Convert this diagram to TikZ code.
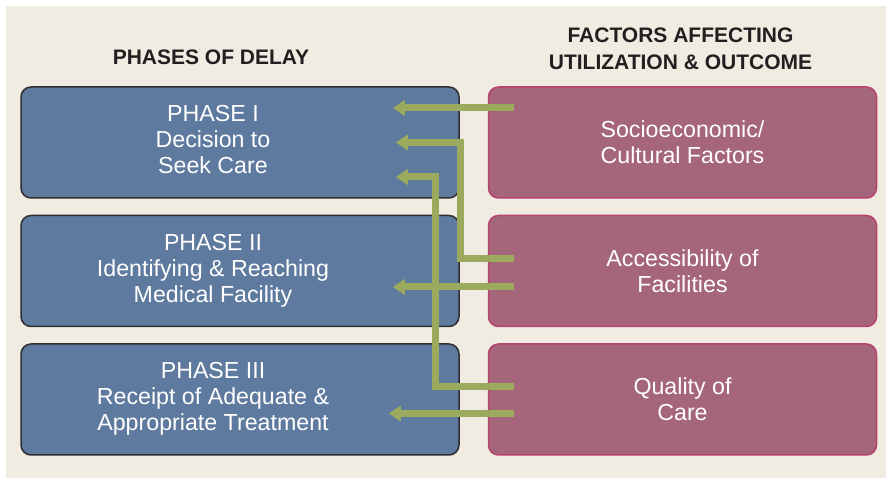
\documentclass[tikz,border=0pt]{standalone}
\usepackage{fontspec}
\setmainfont{Liberation Sans}
\usepackage{xcolor}
\usetikzlibrary{arrows.meta,positioning}

\definecolor{bgcream}{HTML}{F0ECE2}
\definecolor{phaseblue}{HTML}{5E7A9E}
\definecolor{blueborder}{HTML}{2E2E30}
\definecolor{factorpink}{HTML}{A5657B}
\definecolor{pinkborder}{HTML}{B8426E}
\definecolor{arrowgreen}{HTML}{9BAA5C}
\definecolor{headgray}{HTML}{231F20}

% phase text sits a little left of the box centre
\newcommand{\phasetxt}[1]{\begin{tabular}{@{}c@{}}#1\end{tabular}\rule{54pt}{0pt}}

\begin{document}
\begin{tikzpicture}[
  x=1pt,y=1pt,
  font=\fontsize{23.2}{26}\selectfont,
  node distance=16pt and 28pt,
  phase/.style={draw=blueborder,fill=phaseblue,text=white,rounded corners=10pt,line width=1.5pt,minimum width=438pt,minimum height=111pt},
  factor/.style={phase,draw=pinkborder,fill=factorpink,align=center,minimum width=388pt},
  head/.style={font=\bfseries\fontsize{21}{27}\selectfont,align=center,text=headgray},
  arr/.style={-{Triangle[length=12pt,width=15pt]},line width=7pt,draw=arrowgreen},
]
\useasboundingbox (0,0) rectangle (886,478);
\fill[bgcream] (6,0) rectangle (886,472);
% headings
\node[head,anchor=base] (hdphase) at (211,413) {PHASES OF DELAY};
\node[head] (hdfactor) at (680.5,429) {FACTORS AFFECTING\\UTILIZATION \& OUTCOME};
% phases of delay
\node[phase] (ph1) at (240,335.5) {\phasetxt{PHASE I\\Decision to\\Seek Care}};
\node[phase,below=of ph1] (ph2) {\phasetxt{PHASE II\\Identifying \& Reaching\\Medical Facility}};
\node[phase,below=of ph2] (ph3) {\phasetxt{PHASE III\\Receipt of Adequate \&\\Appropriate Treatment}};
% factors
\node[factor,right=of ph1] (soc) {Socioeconomic/\\Cultural Factors};
\node[factor,right=of ph2] (acc) {Accessibility of\\Facilities};
\node[factor,right=of ph3] (qual) {Quality of\\Care};
% links
\draw[arr] ([shift={(26,34.5)}]soc.west) -- ([shift={(-67,34.5)}]ph1.east);
\draw[arr] ([shift={(26,12)}]acc.west) -| ([shift={(1,0)}]ph1.east) -- ([shift={(-64,0)}]ph1.east);
\draw[arr] ([shift={(26,-16)}]acc.west) -- ([shift={(-67,-16)}]ph2.east);
\draw[arr] ([shift={(26,13)}]qual.west) -| ([shift={(-24,-34.5)}]ph1.east) -- ([shift={(-64,-34.5)}]ph1.east);
\draw[arr] ([shift={(26,-14)}]qual.west) -- ([shift={(-71,-14)}]ph3.east);
\end{tikzpicture}
\end{document}
